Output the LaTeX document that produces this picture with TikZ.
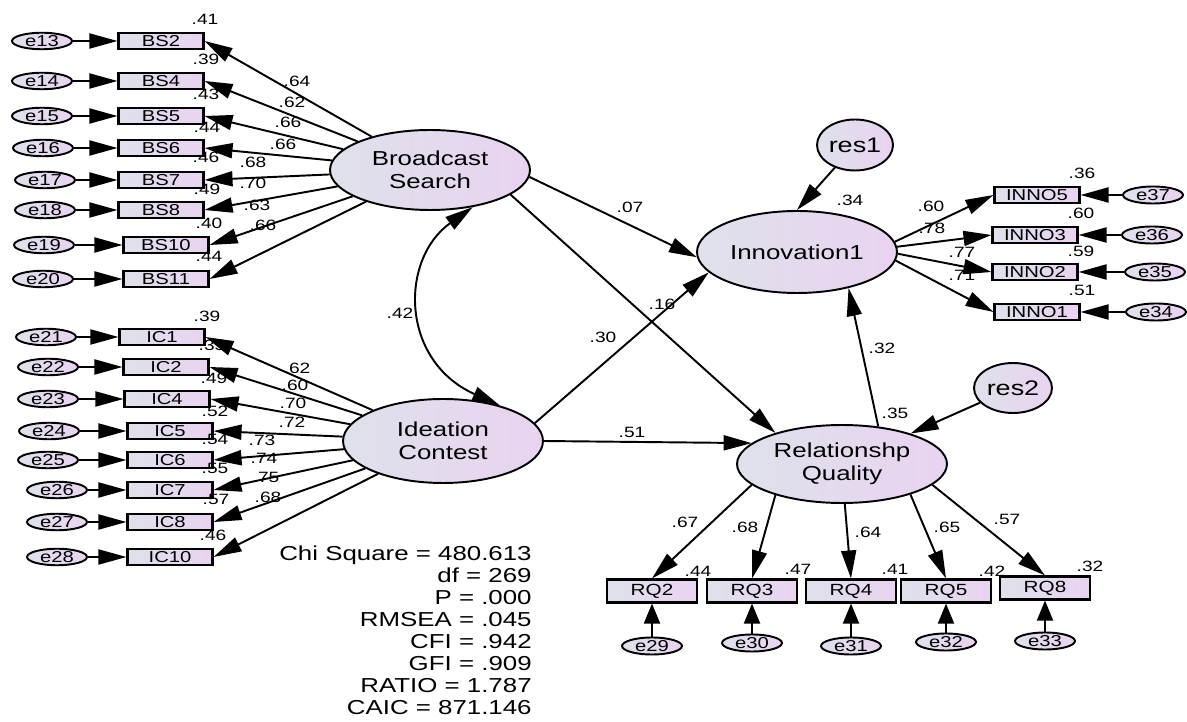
\documentclass[tikz,border=0pt]{standalone}
\usepackage{fontspec}
\setmainfont{Liberation Sans}[FakeStretch=1.28]
\usetikzlibrary{arrows.meta,shapes.geometric}
\definecolor{shadeL}{HTML}{DFE1EB}
\definecolor{shadeR}{HTML}{E9D3F1}

\begin{document}
\begin{tikzpicture}[x=0.02cm, y=-0.02cm,
    lat/.style={draw, ellipse, line width=1.1pt, inner sep=0pt, minimum width=4cm,
                minimum height=1.6cm, left color=shadeL, right color=shadeR,
                align=center, font=\fontsize{11.5}{13}\selectfont},
    res/.style={draw, ellipse, line width=1.1pt, inner sep=0pt, minimum width=1.52cm,
                minimum height=1.02cm, left color=shadeL, right color=shadeR,
                font=\fontsize{12}{14}\selectfont},
    box/.style={draw, line width=1.2pt, inner sep=0pt, minimum width=1.7cm,
                minimum height=0.33cm, left color=shadeL, right color=shadeR,
                font=\fontsize{9}{10}\selectfont},
    err/.style={draw, ellipse, line width=1.1pt, inner sep=0pt, minimum width=1.2cm,
                minimum height=0.33cm, left color=shadeL, right color=shadeR,
                font=\fontsize{9}{10}\selectfont},
    num/.style={inner sep=0pt, font=\fontsize{8.5}{10}\selectfont},
    arr/.style={-{Triangle[length=0.56cm, width=0.3cm]}, line width=1.1pt},
    arrs/.style={-{Triangle[length=0.4cm, width=0.32cm]}, line width=1.1pt},
    cov/.style={{Triangle[length=0.56cm, width=0.3cm]}-{Triangle[length=0.56cm, width=0.3cm]}, line width=1.1pt},
]
    \useasboundingbox (0,0) rectangle (1187,722);

    % latent variables
    \node[lat]                       (bs)   at (430,170) {Broadcast\\Search};
    \node[lat, minimum height=1.68cm] (ic)  at (443,441) {Ideation\\Contest};
    \node[lat, minimum height=1.64cm] (inno) at (797,252) {Innovation1};
    \node[lat, minimum width=4.2cm, minimum height=1.56cm] (rq) at (842,464) {Relationshp\\Quality};
    \node[res]                       (res1) at (855,145) {res1};
    \node[res, minimum width=1.56cm, minimum height=1cm] (res2) at (1013,388) {res2};

    % broadcast search indicators
    \node[box] (bs2)  at (161,41)  {BS2};
    \node[box] (bs4)  at (161,81)  {BS4};
    \node[box] (bs5)  at (161,116) {BS5};
    \node[box] (bs6)  at (161,148) {BS6};
    \node[box] (bs7)  at (161,180) {BS7};
    \node[box] (bs8)  at (161,210) {BS8};
    \node[box] (bs10) at (166,245) {BS10};
    \node[box] (bs11) at (166,279) {BS11};
    \node[err] (e13) at (42,41)  {e13};
    \node[err] (e14) at (42,81)  {e14};
    \node[err] (e15) at (42,116) {e15};
    \node[err] (e16) at (43,148) {e16};
    \node[err] (e17) at (45,180) {e17};
    \node[err] (e18) at (45,210) {e18};
    \node[err] (e19) at (44,245) {e19};
    \node[err] (e20) at (43,279) {e20};

    % ideation contest indicators
    \node[box] (ic1)  at (162,337) {IC1};
    \node[box] (ic2)  at (166,367) {IC2};
    \node[box] (ic4)  at (167,399) {IC4};
    \node[box] (ic5)  at (170,431) {IC5};
    \node[box] (ic6)  at (170,460) {IC6};
    \node[box] (ic7)  at (170,490) {IC7};
    \node[box] (ic8)  at (170,522) {IC8};
    \node[box] (ic10) at (170,557) {IC10};
    \node[err] (e21) at (46,337) {e21};
    \node[err] (e22) at (48,367) {e22};
    \node[err] (e23) at (48,399) {e23};
    \node[err] (e24) at (49,431) {e24};
    \node[err] (e25) at (48,460) {e25};
    \node[err] (e26) at (57,490) {e26};
    \node[err] (e27) at (57,522) {e27};
    \node[err] (e28) at (57,557) {e28};

    % innovation indicators
    \node[box] (inno5) at (1037,195) {INNO5};
    \node[box] (inno3) at (1035,235) {INNO3};
    \node[box] (inno2) at (1035,272) {INNO2};
    \node[box] (inno1) at (1037,312) {INNO1};
    \node[err, minimum height=0.34cm] (e37) at (1153,195) {e37};
    \node[err, minimum height=0.34cm] (e36) at (1152,235) {e36};
    \node[err, minimum height=0.34cm] (e35) at (1155,272) {e35};
    \node[err, minimum height=0.34cm] (e34) at (1156,312) {e34};

    % relationship quality indicators
    \node[box, minimum width=1.8cm, minimum height=0.46cm, font=\fontsize{9.2}{10}\selectfont] (rq2) at (652,591)  {RQ2};
    \node[box, minimum width=1.8cm, minimum height=0.46cm, font=\fontsize{9.2}{10}\selectfont] (rq3) at (752,591)  {RQ3};
    \node[box, minimum width=1.8cm, minimum height=0.46cm, font=\fontsize{9.2}{10}\selectfont] (rq4) at (851,591)  {RQ4};
    \node[box, minimum width=1.8cm, minimum height=0.46cm, font=\fontsize{9.2}{10}\selectfont] (rq5) at (946,591)  {RQ5};
    \node[box, minimum width=1.8cm, minimum height=0.46cm, font=\fontsize{9.2}{10}\selectfont] (rq8) at (1045,588) {RQ8};
    \node[err, minimum height=0.34cm] (e29) at (652,646)  {e29};
    \node[err, minimum height=0.34cm] (e30) at (752,643)  {e30};
    \node[err, minimum height=0.34cm] (e31) at (851,646)  {e31};
    \node[err, minimum height=0.34cm] (e32) at (946,642)  {e32};
    \node[err, minimum height=0.34cm] (e33) at (1045,641) {e33};

    % measurement paths
    \draw[arr] (bs) -- (bs2.east);
    \draw[arr] (bs) -- (bs4.east);
    \draw[arr] (bs) -- (bs5.east);
    \draw[arr] (bs) -- (bs6.east);
    \draw[arr] (bs) -- (bs7.east);
    \draw[arr] (bs) -- (bs8.east);
    \draw[arr] (bs) -- (bs10.east);
    \draw[arr] (bs) -- (bs11.east);
    \draw[arr] (e13) -- (bs2);
    \draw[arr] (e14) -- (bs4);
    \draw[arr] (e15) -- (bs5);
    \draw[arr] (e16) -- (bs6);
    \draw[arr] (e17) -- (bs7);
    \draw[arr] (e18) -- (bs8);
    \draw[arr] (e19) -- (bs10);
    \draw[arr] (e20) -- (bs11);

    \draw[arr] (ic) -- (ic1.east);
    \draw[arr] (ic) -- (ic2.east);
    \draw[arr] (ic) -- (ic4.east);
    \draw[arr] (ic) -- (ic5.east);
    \draw[arr] (ic) -- (ic6.east);
    \draw[arr] (ic) -- (ic7.east);
    \draw[arr] (ic) -- (ic8.east);
    \draw[arr] (ic) -- (ic10.east);
    \draw[arr] (e21) -- (ic1);
    \draw[arr] (e22) -- (ic2);
    \draw[arr] (e23) -- (ic4);
    \draw[arr] (e24) -- (ic5);
    \draw[arr] (e25) -- (ic6);
    \draw[arr] (e26) -- (ic7);
    \draw[arr] (e27) -- (ic8);
    \draw[arr] (e28) -- (ic10);

    \draw[arr] (inno.6)  -- (inno5.west);
    \draw[arr] (inno.3)  -- (inno3.west);
    \draw[arr] (inno.-1) -- (inno2.west);
    \draw[arr] (inno.-5) -- (inno1.west);
    \draw[arr] (e37) -- (inno5);
    \draw[arr] (e36) -- (inno3);
    \draw[arr] (e35) -- (inno2);
    \draw[arr] (e34) -- (inno1);

    \draw[arr] (rq.193) -- (rq2.north);
    \draw[arr] (rq.205) -- (rq3.north);
    \draw[arr] (rq.274) -- (rq4.north);
    \draw[arr] (rq.336) -- (rq5.north);
    \draw[arr] (rq.347) -- (rq8.north);
    \draw[arrs] (e29) -- (rq2);
    \draw[arrs] (e30) -- (rq3);
    \draw[arrs] (e31) -- (rq4);
    \draw[arrs] (e32) -- (rq5);
    \draw[arrs] (e33) -- (rq8);

    % structural paths
    \draw[cov] (bs.-41) .. controls +(-73,52) and +(-100,-45) .. (ic.32);
    \draw[arr] (bs.-4)    -- (inno.183);
    \draw[arr] (bs.-17)   -- (rq.155);
    \draw[arr] (ic.11)    -- (inno.193);
    \draw[arr] (ic.east)  -- (rq.167);
    \draw[arr] (rq.46)    -- (inno.-35);
    \draw[arr] (res1)     -- (inno.north);
    \draw[arr] (res2)     -- (rq);

    % estimates
    \node[num] (r2bs2)  at (205,19)  {.41};
    \node[num] (r2bs4)  at (206,59)  {.39};
    \node[num] (r2bs5)  at (206,94)  {.43};
    \node[num] (r2bs6)  at (207,127) {.44};
    \node[num] (r2bs7)  at (206,157) {.46};
    \node[num] (r2bs8)  at (207,189) {.49};
    \node[num] (r2bs10) at (209,223) {.40};
    \node[num] (r2bs11) at (209,256) {.44};
    \node[num] (lbs2)  at (297,81)  {.64};
    \node[num] (lbs4)  at (292,102) {.62};
    \node[num] (lbs5)  at (288,122) {.66};
    \node[num] (lbs6)  at (283,144) {.66};
    \node[num] (lbs7)  at (253,162) {.68};
    \node[num] (lbs8)  at (253,183) {.70};
    \node[num] (lbs10) at (257,205) {.63};
    \node[num] (lbs11) at (263,225) {.66};

    \node[num] (r2ic1)  at (207,316) {.39};
    \node[num] (r2ic2)  at (212,345) {.35};
    \node[num] (r2ic4)  at (214,378) {.49};
    \node[num] (r2ic5)  at (215,411) {.52};
    \node[num] (r2ic6)  at (215,439) {.54};
    \node[num] (r2ic7)  at (215,468) {.55};
    \node[num] (r2ic8)  at (216,499) {.57};
    \node[num] (r2ic10) at (213,535) {.46};
    \node[num] (lic1)  at (297,368) {.62};
    \node[num] (lic2)  at (295,385) {.60};
    \node[num] (lic4)  at (293,403) {.70};
    \node[num] (lic5)  at (292,422) {.72};
    \node[num] (lic6)  at (262,440) {.73};
    \node[num] (lic7)  at (264,458) {.74};
    \node[num] (lic8)  at (266,477) {.75};
    \node[num] (lic10) at (268,497) {.68};

    \node[num] (r2inno5) at (1082,173) {.36};
    \node[num] (r2inno3) at (1081,213) {.60};
    \node[num] (r2inno2) at (1081,251) {.59};
    \node[num] (r2inno1) at (1082,290) {.51};
    \node[num] (linno5) at (931,206) {.60};
    \node[num] (linno3) at (932,228) {.78};
    \node[num] (linno2) at (962,252) {.77};
    \node[num] (linno1) at (962,275) {.71};

    \node[num] (r2rq2) at (698,571)  {.44};
    \node[num] (r2rq3) at (798,569)  {.47};
    \node[num] (r2rq4) at (895,569)  {.41};
    \node[num] (r2rq5) at (992,571)  {.42};
    \node[num] (r2rq8) at (1090,566) {.32};
    \node[num] (lrq2) at (685,522)  {.67};
    \node[num] (lrq3) at (745,527)  {.68};
    \node[num] (lrq4) at (868,532)  {.64};
    \node[num] (lrq5) at (947,527)  {.65};
    \node[num] (lrq8) at (1007,519) {.57};

    \node[num] (cbsic)    at (400,313) {.42};
    \node[num] (pbsinno)  at (630,207) {.07};
    \node[num] (pbsrq)    at (662,304) {.16};
    \node[num] (picinno)  at (603,337) {.30};
    \node[num] (picrq)    at (632,432) {.51};
    \node[num] (prqinno)  at (882,348) {.32};
    \node[num] (r2inno)   at (850,200) {.34};
    \node[num] (r2rq)     at (895,413) {.35};

    % fit statistics
    \node[inner sep=0pt, align=right, anchor=north east, font=\fontsize{11.5}{12.5}\selectfont]
        (fit) at (532,546) {Chi Square = 480.613\\df = 269\\P = .000\\RMSEA = .045\\CFI = .942\\GFI = .909\\RATIO = 1.787\\CAIC = 871.146};
\end{tikzpicture}
\end{document}
